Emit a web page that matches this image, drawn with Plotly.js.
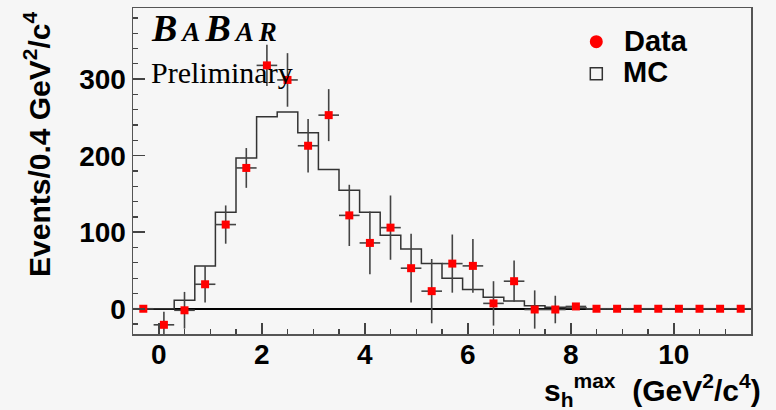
<!DOCTYPE html>
<html>
<head>
<meta charset="utf-8">
<script src="https://cdn.plot.ly/plotly-3.0.1.min.js"></script>
<style>
html,body{margin:0;padding:0;background:#f6f6f6;}
#chart{width:776px;height:410px;}
</style>
</head>
<body>
<div id="chart"></div>
<script>
// Bin centres (GeV^2/c^4), bin width 0.4
const binCenters = [-0.3, 0.1, 0.5, 0.9, 1.3, 1.7, 2.1, 2.5, 2.9, 3.3, 3.7, 4.1, 4.5, 4.9, 5.3,
                    5.7, 6.1, 6.5, 6.9, 7.3, 7.7, 8.1, 8.5, 8.9, 9.3, 9.7, 10.1, 10.5, 10.9, 11.3];
const binHalfWidth = 0.2;
// Data (background subtracted) events per bin
const dataValues = [0, -21, -2, 32, 110, 184, 318, 299, 213, 253, 122, 86, 106, 53, 23,
                    59, 56, 7, 36, -1, -1, 3, 0, 0, 0, 0, 0, 0, 0, 0];
const dataErrors = [0, 17, 24, 24, 25, 26, 27, 35, 35, 34, 40, 41, 42, 45, 42,
                    38, 35, 29, 27, 25, 18, 4, 0, 0, 0, 0, 0, 0, 0, 0];
// Monte Carlo expectation per bin
const mcValues = [0, 0, 11, 56, 126, 197, 251, 257, 230, 182, 155, 126, 96, 78, 59,
                  40, 25, 15, 10, 4, 2, 1, 0, 0, 0, 0, 0, 0, 0, 0];

const xTickVals = [0, 2, 4, 6, 8, 10];
const yTickVals = [0, 100, 200, 300];

// step outline from bin edges
const mcX = binCenters.map(c => c - binHalfWidth).concat([binCenters[binCenters.length - 1] + binHalfWidth]);
const mcY = mcValues.concat([mcValues[mcValues.length - 1]]);

const PX = {l: 133, r: 751, t: 8, b: 334};
const W = PX.r - PX.l, H = PX.b - PX.t;
const px2x = v => (v - PX.l) / W;
const px2y = v => (PX.b - v) / H;

const traces = [
  {
    x: mcX, y: mcY, type: 'scatter', mode: 'lines',
    line: {shape: 'hv', color: '#333333', width: 1.5},
    hoverinfo: 'skip', showlegend: false
  },
  {
    x: binCenters, y: dataValues, type: 'scatter', mode: 'markers',
    marker: {symbol: 'square', size: 8, color: '#ff0000'},
    error_y: {type: 'data', array: dataErrors, visible: true, color: '#444444', thickness: 1.6, width: 0},
    error_x: {type: 'constant', value: binHalfWidth, visible: true, color: '#444444', thickness: 1.6, width: 0},
    showlegend: false
  }
];

const tickFont = {family: 'Liberation Sans, Arial, sans-serif', size: 28, color: '#000', weight: 'bold'};
const serif = 'Liberation Serif, Times New Roman, serif';
const sans = 'Liberation Sans, Arial, sans-serif';

const layout = {
  width: 776, height: 410,
  margin: {l: PX.l, r: 776 - PX.r, t: PX.t, b: 410 - PX.b, pad: 0},
  paper_bgcolor: '#f6f6f6', plot_bgcolor: '#f6f6f6',
  showlegend: false,
  xaxis: {
    range: [-0.5, 11.5], tickvals: xTickVals, ticktext: xTickVals.map(String),
    ticks: 'inside', ticklen: 11, tickwidth: 1.5, tickcolor: '#444',
    minor: {dtick: 0.5, tick0: 0, ticks: 'inside', ticklen: 5, tickwidth: 1.2, tickcolor: '#444'},
    showline: true, mirror: true, linecolor: '#555', linewidth: 1.5,
    showgrid: false, zeroline: false, tickfont: tickFont, ticklabelstandoff: -5
  },
  yaxis: {
    range: [-33, 393], tickvals: yTickVals, ticktext: yTickVals.map(String),
    ticks: 'inside', ticklen: 12, tickwidth: 1.5, tickcolor: '#444',
    minor: {dtick: 20, tick0: 0, ticks: 'inside', ticklen: 5, tickwidth: 1.2, tickcolor: '#444'},
    showline: true, mirror: true, linecolor: '#555', linewidth: 1.5,
    showgrid: false, zeroline: true, zerolinecolor: '#000', zerolinewidth: 2,
    tickfont: tickFont, ticklabelstandoff: 0
  },
  shapes: [
    {type: 'circle', xref: 'paper', yref: 'paper', xsizemode: 'pixel', ysizemode: 'pixel',
     xanchor: px2x(596.3), yanchor: px2y(41.7), x0: -6.5, x1: 6.5, y0: -6.5, y1: 6.5,
     fillcolor: '#ff0000', line: {width: 0}},
    {type: 'rect', xref: 'paper', yref: 'paper', xsizemode: 'pixel', ysizemode: 'pixel',
     xanchor: px2x(596.3), yanchor: px2y(73.7), x0: -6, x1: 6, y0: -6, y1: 6,
     fillcolor: 'rgba(0,0,0,0)', line: {width: 1.5, color: '#333'}}
  ],
  annotations: [
    {text: '<b><i><span style="letter-spacing:5px">B<span style="font-size:27px">A</span>B<span style="font-size:27px">AR</span></span></i></b>',
     xref: 'paper', yref: 'paper', x: px2x(149), y: px2y(5), xanchor: 'left', yanchor: 'top',
     showarrow: false, font: {family: serif, size: 38, color: '#000'}},
    {text: 'Preliminary', xref: 'paper', yref: 'paper', x: px2x(149), y: px2y(54),
     xanchor: 'left', yanchor: 'top', showarrow: false,
     font: {family: serif, size: 30, color: '#000'}},
    {text: 'Data', xref: 'paper', yref: 'paper', x: px2x(622), y: px2y(41), xanchor: 'left', yanchor: 'middle',
     showarrow: false, font: {family: sans, size: 29, color: '#000', weight: 'bold'}},
    {text: 'MC', xref: 'paper', yref: 'paper', x: px2x(621), y: px2y(72.5), xanchor: 'left', yanchor: 'middle',
     showarrow: false, font: {family: sans, size: 29, color: '#000', weight: 'bold'}},
    {text: 's<sub>h</sub><sup>max</sup>  (GeV<sup>2</sup>/c<sup>4</sup>)', xref: 'paper', yref: 'paper',
     x: px2x(763), y: px2y(390), xanchor: 'right', yanchor: 'middle', showarrow: false,
     font: {family: sans, size: 30, color: '#000', weight: 'bold'}},
    {text: 'Events/0.4 GeV<sup>2</sup>/c<sup>4</sup>', xref: 'paper', yref: 'paper', textangle: -90,
     x: px2x(37), y: px2y(144), xanchor: 'center', yanchor: 'middle', showarrow: false,
     font: {family: sans, size: 30, color: '#000', weight: 'bold'}}
  ]
};

Plotly.newPlot('chart', traces, layout, {staticPlot: true, displayModeBar: false});
</script>
</body>
</html>
